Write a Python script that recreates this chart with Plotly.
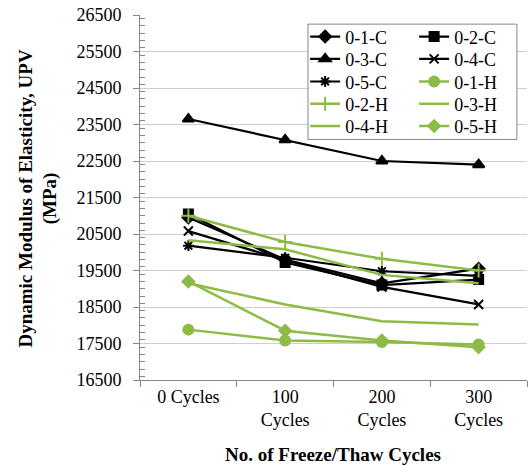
import plotly.graph_objects as go

categories = ["0 Cycles", "100<br>Cycles", "200<br>Cycles", "300<br>Cycles"]

s01C = [20950, 19800, 19150, 19550]
s02C = [21050, 19720, 19100, 19250]
s03C = [23650, 23080, 22500, 22400]
s04C = [20580, 19780, 19050, 18570]
s05C = [20180, 19850, 19480, 19350]
s01H = [17880, 17580, 17540, 17470]
s02H = [21000, 20280, 19820, 19500]
s03H = [20330, 20080, 19380, 19150]
s04H = [19150, 18570, 18110, 18020]
s05H = [19200, 17850, 17580, 17400]

BLACK = "#000000"
GREEN = "#8DBB46"

# name, values, colour, marker symbol, marker size, legend row
series = [
    ("0-1-C", s01C, BLACK, "diamond", 9, "legend"),
    ("0-2-C", s02C, BLACK, "square", 9, "legend"),
    ("0-3-C", s03C, BLACK, "triangle-up", 10, "legend2"),
    ("0-4-C", s04C, BLACK, "x-thin-open", 9, "legend2"),
    ("0-5-C", s05C, BLACK, "asterisk-open", 9, "legend3"),
    ("0-1-H", s01H, GREEN, "circle", 10, "legend3"),
    ("0-2-H", s02H, GREEN, "cross-thin-open", 10, "legend4"),
    ("0-3-H", s03H, GREEN, None, 0, "legend4"),
    ("0-4-H", s04H, GREEN, None, 0, "legend5"),
    ("0-5-H", s05H, GREEN, "diamond", 9, "legend5"),
]

fig = go.Figure()
for name, vals, col, sym, size, lg in series:
    if sym is None:
        fig.add_trace(go.Scatter(x=categories, y=vals, name=name, mode="lines", legend=lg,
                                 line=dict(color=col, width=2.5)))
    else:
        fig.add_trace(go.Scatter(x=categories, y=vals, name=name, mode="lines+markers", legend=lg,
                                 line=dict(color=col, width=2.2 if col == BLACK else 2.5),
                                 marker=dict(symbol=sym, size=size, color=col,
                                             line=dict(color=col, width=2))))

FONT = "Liberation Serif, Times New Roman, serif"

def row_legend(yc):
    return dict(
        orientation="h", x=0.99, y=yc, xanchor="right", yanchor="middle",
        bgcolor="rgba(0,0,0,0)", borderwidth=0,
        font=dict(family=FONT, size=18, color="black"),
        entrywidth=64, entrywidthmode="pixels",
        tracegroupgap=0, itemwidth=30,
    )

row_y = [0.940, 0.879, 0.817, 0.756, 0.695]

fig.update_layout(
    width=532, height=476,
    margin=dict(l=140, r=5, t=13, b=96),
    paper_bgcolor="white", plot_bgcolor="white",
    font=dict(family=FONT, size=18, color="black"),
    showlegend=True,
    legend=row_legend(row_y[0]),
    legend2=row_legend(row_y[1]),
    legend3=row_legend(row_y[2]),
    legend4=row_legend(row_y[3]),
    legend5=row_legend(row_y[4]),
    xaxis=dict(
        type="category", range=[-0.5, 3.5],
        showline=True, linecolor="#868686", linewidth=1,
        ticks="outside", ticklen=6, tickcolor="#868686", tickson="boundaries",
        showgrid=False, tickfont=dict(family=FONT, size=18, color="black"),
    ),
    yaxis=dict(
        range=[16500, 26500], tick0=16500, dtick=1000, tickformat="d",
        showline=True, linecolor="#868686", linewidth=1,
        ticks="outside", ticklen=6, tickcolor="#868686",
        showgrid=True, gridcolor="#CFCFCF", gridwidth=1,
        tickfont=dict(family=FONT, size=18, color="black"),
        ticklabelstandoff=8, zeroline=False,
        minor=dict(dtick=200, ticks="inside", ticklen=5, tickcolor="#868686", showgrid=False),
    ),
    shapes=[
        dict(type="rect", xref="paper", yref="paper", x0=0.434, x1=0.974, y0=0.659, y1=0.975,
             fillcolor="white", line=dict(color="#868686", width=1), layer="above"),
    ],
    annotations=[
        dict(text="<b>No. of Freeze/Thaw Cycles</b>", xref="paper", yref="paper",
             x=0.499, y=-0.204, xanchor="center", yanchor="middle", showarrow=False,
             font=dict(family=FONT, size=19, color="black")),
        dict(text="<b>Dynamic Modulus of Elasticity, UPV<br>(MPa)</b>", xref="paper", yref="paper",
             x=-0.262, y=0.496, xanchor="center", yanchor="middle", showarrow=False,
             textangle=-90, font=dict(family=FONT, size=19, color="black")),
    ],
)

fig.write_html("out.html")
